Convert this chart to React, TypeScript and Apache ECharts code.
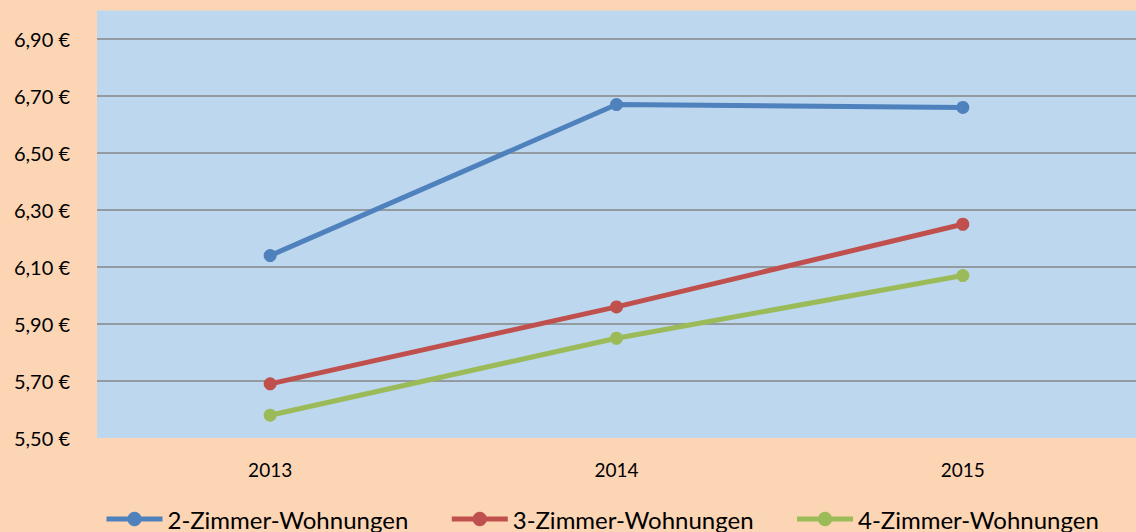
import React, { useEffect, useRef } from "react";
import * as echarts from "echarts";

const years = ["2013", "2014", "2015"];
const zwei = [6.14, 6.67, 6.66];
const drei = [5.69, 5.96, 6.25];
const vier = [5.58, 5.85, 6.07];
const seriesNames = ["2-Zimmer-Wohnungen", "3-Zimmer-Wohnungen", "4-Zimmer-Wohnungen"];
const colors = ["#4F81BD", "#C0504D", "#9BBB59"];

const FONT = "Lato, 'Open Sans', sans-serif";

export default function App() {
  const ref = useRef<HTMLDivElement>(null);
  useEffect(() => {
    document.body.style.margin = "0";
    const chart = echarts.init(ref.current!, null, { renderer: "svg" });
    const mk = (name: string, data: number[], color: string) => ({
      name,
      type: "line",
      data,
      symbol: "circle",
      symbolSize: 13,
      lineStyle: { width: 5, color },
      itemStyle: { color },
    });
    chart.setOption({
      animation: false,
      backgroundColor: "#FCD5B5",
      textStyle: { fontFamily: FONT },
      grid: {
        left: 97,
        right: 0,
        top: 10.5,
        bottom: 94,
        show: true,
        backgroundColor: "#BDD7EE",
        borderWidth: 0,
      },
      legend: {
        bottom: 1,
        left: 104,
        padding: 0,
        itemWidth: 56,
        itemHeight: 18,
        itemGap: 41,
        lineStyle: { width: 5 },
        textStyle: { fontSize: 24, color: "#000", fontFamily: FONT },
        data: seriesNames,
      },
      xAxis: {
        type: "category",
        data: years,
        boundaryGap: true,
        axisLine: { show: false },
        axisTick: { show: false },
        axisLabel: { fontSize: 19, color: "#000", margin: 22, fontFamily: FONT },
      },
      yAxis: {
        type: "value",
        min: 5.5,
        max: 7.0,
        interval: 0.2,
        axisLine: { show: false },
        axisTick: { show: false },
        axisLabel: {
          fontSize: 20,
          color: "#000",
          margin: 27,
          fontFamily: FONT,
          showMaxLabel: false,
          formatter: (v: number) => v.toFixed(2).replace(".", ",") + " €",
        },
        splitLine: {
          show: true,
          showMinLine: false,
          showMaxLine: false,
          lineStyle: { color: "#868686", width: 1.5 },
        },
      },
      series: [
        mk(seriesNames[0], zwei, colors[0]),
        mk(seriesNames[1], drei, colors[1]),
        mk(seriesNames[2], vier, colors[2]),
      ],
    });
    return () => chart.dispose();
  }, []);
  return <div ref={ref} style={{ width: 1136, height: 532 }} />;
}
